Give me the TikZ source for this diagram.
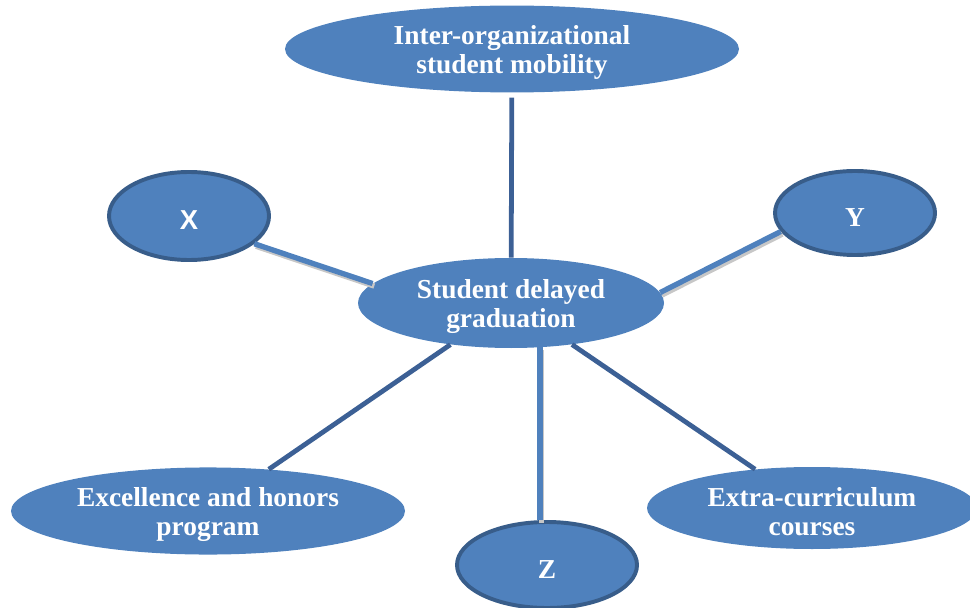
\documentclass[tikz,border=0pt]{standalone}
\usepackage{fontspec}
\setmainfont{Liberation Serif}
\newfontfamily\labelsans{Liberation Sans}
\usetikzlibrary{shapes.geometric}
\definecolor{bubblefill}{HTML}{4F81BD}
\definecolor{bubbleedge}{HTML}{385D8A}
\definecolor{darklink}{HTML}{3C6095}

\begin{document}
\begin{tikzpicture}[
        bubble/.style={ellipse, fill=bubblefill, draw=none, inner sep=0pt, text=white, align=center, text height=39.5pt, font=\bfseries\fontsize{19.5}{20.8}\selectfont},
        ringbubble/.style={bubble, draw=bubbleedge, line width=2.8pt, text height=18.5pt},
        darkline/.style={draw=darklink, line width=3.4pt},
        lightline/.style={draw=bubblefill, line width=3.8pt, preaction={draw=black!22, line width=3.8pt, transform canvas={shift={(1.2pt,-1.8pt)}}}}
    ]
            \useasboundingbox (0,0) rectangle (24.25,15.175);

            \node[bubble, minimum width=11.35cm, minimum height=2.15cm] (mobility) at (12.80,13.95) {Inter-organizational\\student mobility};
            \node[bubble, minimum width=7.65cm, minimum height=2.25cm] (delayed) at (12.775,7.60) {Student delayed\\graduation};
            \node[ringbubble, minimum width=4.00cm, minimum height=2.20cm] (x) at (4.725,9.775) {\labelsans X};
            \node[ringbubble, minimum width=4.00cm, minimum height=2.10cm] (y) at (21.375,9.85) {Y};
            \node[ringbubble, minimum width=4.50cm, minimum height=2.15cm] (z) at (13.675,1.05) {Z};
            \node[bubble, minimum width=9.85cm, minimum height=2.00cm] (excellence) at (5.20,2.40) {Excellence and honors\\program};
            \node[bubble, minimum width=8.25cm, minimum height=2.05cm] (extra) at (20.30,2.475) {Extra-curriculum\\courses};

            \draw[darkline, shorten <=0.12cm] (mobility) -- (delayed);
            \draw[lightline] (x.-23) -- (delayed.172);
            \draw[lightline] (delayed.4) -- (y.194);
            \draw[darkline] (delayed) -- (excellence);
            \draw[lightline] (delayed.-57) -- (delayed.-57 |- z.north);
            \draw[darkline] (delayed) -- (extra);

        \end{tikzpicture}
\end{document}
